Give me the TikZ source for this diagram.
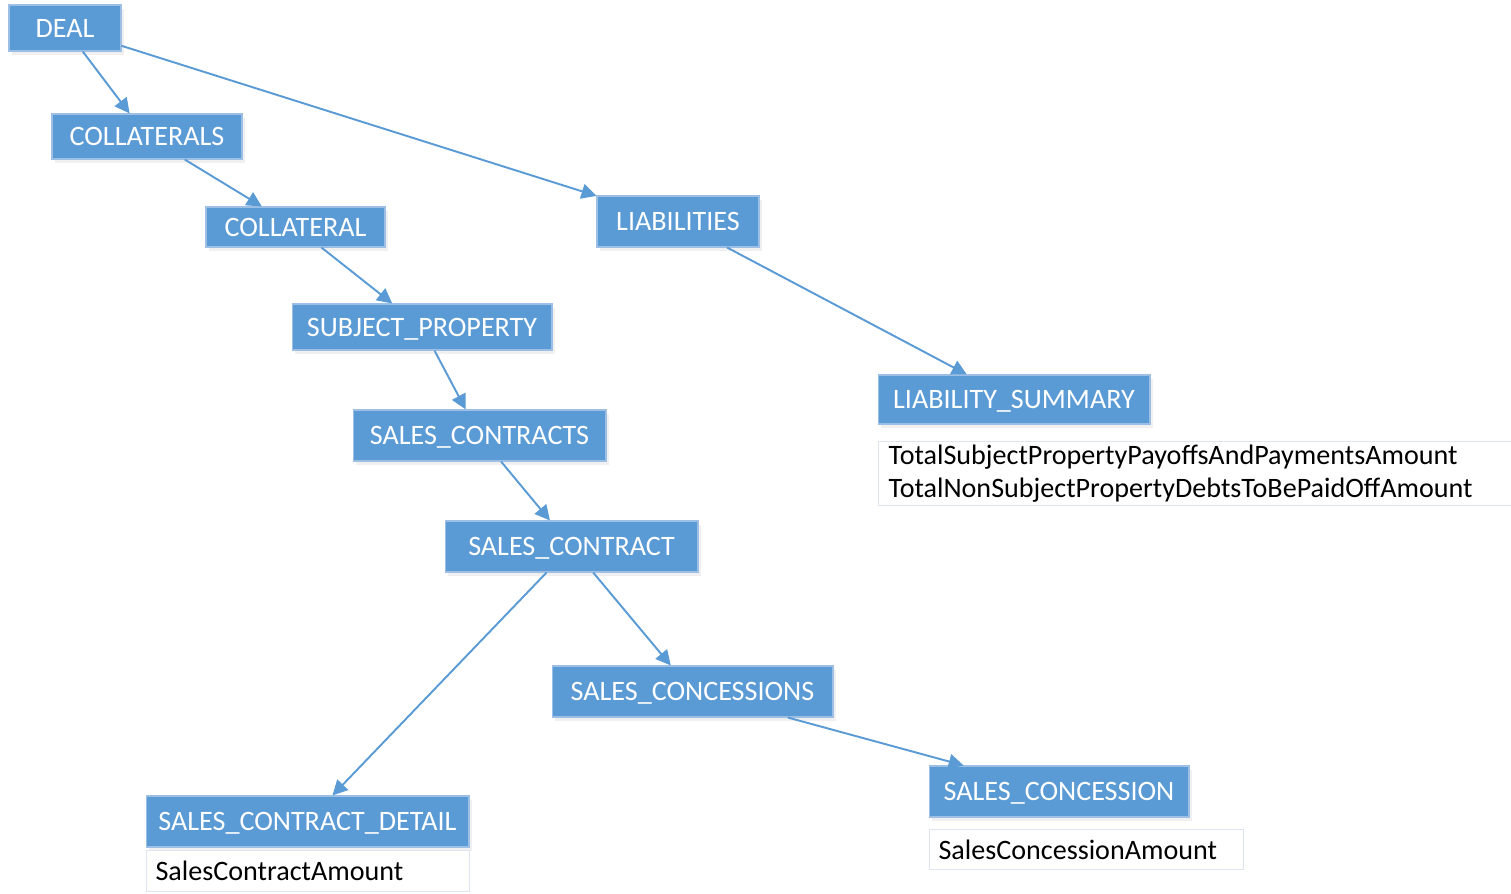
\documentclass[tikz,border=0pt]{standalone}
\usepackage{fontspec}
\setmainfont{Carlito}
\usepackage{xcolor}
\usetikzlibrary{arrows.meta, shadows}

\definecolor{entblue}{HTML}{5B9BD5}
\definecolor{entedge}{HTML}{9DBFE6}
\definecolor{attredge}{HTML}{DDE5F0}

\begin{document}
\begin{tikzpicture}[
    x=0.02cm, y=-0.02cm,
    >={Triangle[length=0.3cm, width=0.3cm]},
    entity/.style={draw=entedge, fill=entblue, line width=0.6pt, text=white,
        font=\fontsize{16}{19}\selectfont, inner sep=0pt,
        text height=0.46cm, text depth=0.1cm,
        drop shadow={opacity=0.12, shadow xshift=0.06cm, shadow yshift=-0.08cm}},
    attr/.style={draw=attredge, fill=white, line width=0.6pt, anchor=north west,
        font=\fontsize{16}{18.5}\selectfont, align=left, inner sep=0pt},
    link/.style={->, line width=1.1pt, entblue},
]

\useasboundingbox (0,0) rectangle (1511,893);

%--- Entity boxes (centers in px) ---
\node[entity, minimum width=2.24cm, minimum height=0.92cm] (deal)     at (65,28)      {DEAL};
\node[entity, minimum width=3.80cm, minimum height=0.90cm] (colls)    at (147,136.5)  {COLLATERALS};
\node[entity, minimum width=3.58cm, minimum height=0.80cm] (coll)     at (295.5,227)  {COLLATERAL};
\node[entity, minimum width=5.20cm, minimum height=0.92cm] (subjprop) at (422,327)    {SUBJECT\_PROPERTY};
\node[entity, minimum width=3.24cm, minimum height=1.02cm] (liabs)    at (678,221.5)  {LIABILITIES};
\node[entity, minimum width=5.44cm, minimum height=0.98cm] (liabsum)  at (1014,399.5) {LIABILITY\_SUMMARY};
\node[entity, minimum width=5.06cm, minimum height=1.02cm] (scs)      at (479.5,435.5){SALES\_CONTRACTS};
\node[entity, minimum width=5.06cm, minimum height=1.02cm] (sc)       at (571.5,546.5){SALES\_CONTRACT};
\node[entity, minimum width=5.62cm, minimum height=1.02cm] (sconcs)   at (692.5,691.5){SALES\_CONCESSIONS};
\node[entity, minimum width=6.46cm, minimum height=1.02cm] (scdetail) at (307.5,821.5){SALES\_CONTRACT\_DETAIL};
\node[entity, minimum width=5.20cm, minimum height=1.02cm] (sconc)    at (1059,791.5) {SALES\_CONCESSION};

%--- Attribute boxes ---
\node[attr, minimum width=12.70cm, minimum height=1.28cm, text width=12.70cm] (liabsumattr) at (878,441)
    {\hspace*{0.2cm}TotalSubjectPropertyPayoffsAndPaymentsAmount\\
     \hspace*{0.2cm}TotalNonSubjectPropertyDebtsToBePaidOffAmount};
\node[attr, minimum width=6.46cm, minimum height=0.82cm, text width=6.46cm] (scdetailattr) at (146,850)
    {\hspace*{0.18cm}SalesContractAmount};
\node[attr, minimum width=6.28cm, minimum height=0.80cm, text width=6.28cm] (sconcattr) at (929,829)
    {\hspace*{0.18cm}SalesConcessionAmount};

%--- Connectors ---
\draw[link] (deal) -- (colls);
\draw[link] (deal) -- (liabs);
\draw[link] (colls) -- (coll);
\draw[link] (coll) -- (subjprop);
\draw[link] (subjprop) -- (scs);
\draw[link] (scs) -- (sc);
\draw[link] (sc) -- (scdetail);
\draw[link] (sc) -- (sconcs);
\draw[link] (liabs) -- (liabsum);
\draw[link] (sconcs) -- (sconc);

\end{tikzpicture}
\end{document}
